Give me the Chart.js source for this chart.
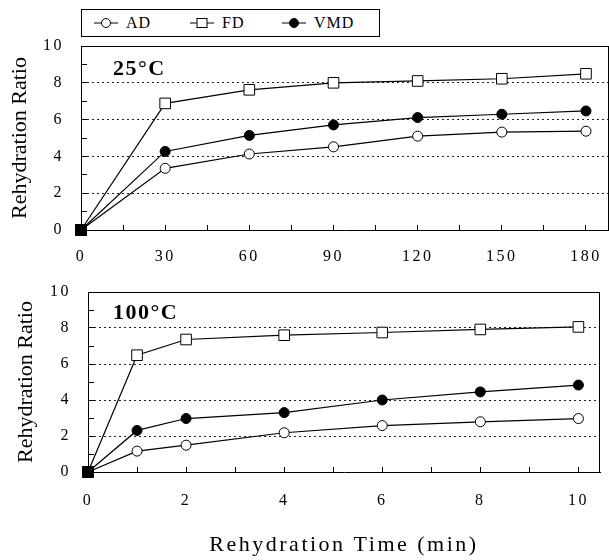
<!DOCTYPE html>
<html>
<head>
<meta charset="utf-8">
<script src="https://cdn.jsdelivr.net/npm/chart.js@4/dist/chart.umd.min.js"></script>
<style>
  html, body { margin: 0; padding: 0; background: #fff; }
  body { width: 609px; height: 560px; position: relative; overflow: hidden; font-family: "Liberation Serif", "Times New Roman", serif; }
  canvas { position: absolute; left: 0; }
  #c1 { top: 0; }
  #c2 { top: 270px; }
  .legend { position: absolute; left: 81px; top: 9px; width: 299px; height: 28px; box-sizing: border-box; border: 1px solid #000; background: #fff; }
  .legend .item { position: absolute; top: 0; height: 26px; display: flex; align-items: center; font-size: 16px; letter-spacing: 1px; color: #000; }
  .legend svg { display: block; margin-right: 8px; }
  .panel-label { position: absolute; font-weight: bold; font-size: 22px; letter-spacing: 1.5px; color: #000; line-height: 1; }
</style>
</head>
<body>
<canvas id="c1" width="609" height="270"></canvas>
<canvas id="c2" width="609" height="290"></canvas>
<div class="legend" id="legend"></div>
<div class="panel-label" style="left:113px; top:57px;">25°C</div>
<div class="panel-label" style="left:113px; top:301px;">100°C</div>
<script>
// ---------- data ----------
const seriesNames = ["AD", "FD", "VMD"];

const timeTop = [0, 30, 60, 90, 120, 150, 180];          // min, 25 °C
const adTop   = [0, 3.35, 4.13, 4.52, 5.10, 5.32, 5.37];
const fdTop   = [0, 6.88, 7.62, 8.00, 8.10, 8.22, 8.49];
const vmdTop  = [0, 4.27, 5.14, 5.71, 6.11, 6.29, 6.47];

const timeBot = [0, 1, 2, 4, 6, 8, 10];                  // min, 100 °C
const adBot   = [0, 1.16, 1.49, 2.18, 2.58, 2.79, 2.97];
const fdBot   = [0, 6.49, 7.36, 7.60, 7.75, 7.92, 8.06];
const vmdBot  = [0, 2.31, 2.97, 3.30, 4.00, 4.45, 4.83];

const xTickLabelsTop = [0, 30, 60, 90, 120, 150, 180];
const xMinorTop = [15, 45, 75, 105, 135, 165];
const xTickLabelsBot = [0, 2, 4, 6, 8, 10];
const xMinorBot = [1, 3, 5, 7, 9];
const yTickLabels = [0, 2, 4, 6, 8, 10];
const yMinor = [1, 3, 5, 7, 9];

const yTitle = "Rehydration Ratio";
const xTitle = "Rehydration Time (min)";

// ---------- helpers ----------
const FONT = "'Liberation Serif', 'Times New Roman', serif";

function toXY(xs, ys) { return xs.map((x, i) => ({ x: x, y: ys[i] })); }

const seriesStyle = {
  AD:  { style: 'circle', fill: '#ffffff', radius: 5 },
  FD:  { style: 'rect',   fill: '#ffffff', radius: 7.5 },
  VMD: { style: 'circle', fill: '#000000', radius: 5 }
};

function makeDataset(name, xs, ys) {
  const s = seriesStyle[name];
  return {
    label: name,
    data: toXY(xs, ys),
    borderColor: '#000',
    borderWidth: 1.2,
    backgroundColor: '#000',
    pointStyle: xs.map((x, i) => i === 0 ? 'rect' : s.style),
    pointRadius: xs.map((x, i) => i === 0 ? 7.5 : s.radius),
    pointBackgroundColor: xs.map((x, i) => i === 0 ? '#000' : s.fill),
    pointBorderColor: '#000',
    pointBorderWidth: 1,
    tension: 0,
    clip: false
  };
}

const frameAndSpacing = {
  id: 'frameAndSpacing',
  beforeDraw(chart) { chart.ctx.letterSpacing = '0px'; },
  afterDatasetsDraw(chart) { chart.ctx.letterSpacing = '2.5px'; },
  afterDraw(chart) {
    const a = chart.chartArea, ctx = chart.ctx;
    ctx.save();
    ctx.letterSpacing = '0px';
    ctx.strokeStyle = '#000';
    ctx.lineWidth = 1;
    ctx.beginPath();
    ctx.moveTo(a.left, Math.round(a.top) + 0.5);
    ctx.lineTo(a.right, Math.round(a.top) + 0.5);
    ctx.moveTo(Math.round(a.right) - 0.5, a.top);
    ctx.lineTo(Math.round(a.right) - 0.5, a.bottom);
    ctx.stroke();
    ctx.restore();
  }
};

function makeChart(canvasId, xs, ad, fd, vmd, opts) {
  const majors = opts.majors, minors = opts.minors;
  const allX = majors.concat(minors).sort((a, b) => a - b);
  const allY = yTickLabels.concat(yMinor).sort((a, b) => a - b);
  return new Chart(document.getElementById(canvasId), {
    type: 'line',
    data: {
      datasets: [
        makeDataset(seriesNames[0], xs, ad),
        makeDataset(seriesNames[1], xs, fd),
        makeDataset(seriesNames[2], xs, vmd)
      ]
    },
    options: {
      responsive: false,
      devicePixelRatio: 1,
      animation: false,
      events: [],
      layout: { autoPadding: false, padding: { top: opts.padTop, right: opts.padRight, left: 0, bottom: 0 } },
      plugins: { legend: { display: false }, tooltip: { enabled: false } },
      scales: {
        x: {
          type: 'linear',
          min: 0,
          max: opts.xMax,
          afterBuildTicks: (sc) => { sc.ticks = allX.map(v => ({ value: v })); },
          afterFit: (sc) => { sc.height = opts.xHeight; sc.paddingLeft = 0; sc.paddingRight = 0; },
          ticks: {
            z: 1,
            autoSkip: false,
            maxRotation: 0,
            padding: opts.xLabelPad,
            color: '#000',
            font: { family: FONT, size: 16 },
            callback: (v) => majors.includes(v) ? String(v) : ''
          },
          grid: {
            z: 1,
            drawOnChartArea: false,
            drawTicks: true,
            tickLength: -5,
            tickColor: '#000',
            tickWidth: 1
          },
          border: { display: true, color: '#000', width: 1, z: 2 },
          title: {
            display: opts.showXTitle,
            text: xTitle,
            color: '#000',
            font: { family: FONT, size: 22 },
            padding: { top: 0, bottom: opts.xTitlePad }
          }
        },
        y: {
          type: 'linear',
          min: 0,
          max: 10,
          afterBuildTicks: (sc) => { sc.ticks = allY.map(v => ({ value: v })); },
          afterFit: (sc) => { sc.width = opts.yWidth; sc.paddingTop = 0; sc.paddingBottom = 0; },
          ticks: {
            z: 1,
            autoSkip: false,
            padding: opts.yLabelPad,
            color: '#000',
            font: { family: FONT, size: 16 },
            callback: (v) => yTickLabels.includes(v) ? String(v) : ''
          },
          grid: {
            drawOnChartArea: true,
            drawTicks: true,
            tickLength: -6,
            tickColor: (c) => (c.tick && (c.tick.value === 0 || c.tick.value === 10)) ? 'rgba(0,0,0,0)' : '#000',
            color: (c) => (c.tick && [2, 4, 6, 8].includes(c.tick.value)) ? '#222' : 'rgba(0,0,0,0)',
            lineWidth: 1
          },
          border: { display: true, color: '#000', width: 1, dash: [2, 3] },
          title: {
            display: true,
            text: yTitle,
            color: '#000',
            font: { family: FONT, size: 22 },
            padding: { top: opts.yTitlePad, bottom: 0 }
          }
        }
      }
    },
    plugins: [frameAndSpacing]
  });
}

makeChart('c1', timeTop, adTop, fdTop, vmdTop, {
  majors: xTickLabelsTop, minors: xMinorTop, xMax: 188.2,
  padTop: 46, padRight: 0, xHeight: 40, yWidth: 81,
  xLabelPad: 22, yLabelPad: 23, showXTitle: false, xTitlePad: 0, yTitlePad: 7
});

makeChart('c2', timeBot, adBot, fdBot, vmdBot, {
  majors: xTickLabelsBot, minors: xMinorBot, xMax: 10.44,
  padTop: 22, padRight: 9, xHeight: 88, yWidth: 88,
  xLabelPad: 24, yLabelPad: 23, showXTitle: true, xTitlePad: 2, yTitlePad: 13
});

// ---------- legend (HTML) ----------
const legendPos = [12, 108, 200];
const legend = document.getElementById('legend');
seriesNames.forEach((name, i) => {
  const s = seriesStyle[name];
  const item = document.createElement('div');
  item.className = 'item';
  item.style.left = legendPos[i] + 'px';
  let marker;
  if (s.style === 'rect') {
    marker = `<rect x="7" y="2.5" width="10" height="9" fill="${s.fill}" stroke="#000" stroke-width="1"/>`;
  } else {
    marker = `<circle cx="12" cy="7" r="4.5" fill="${s.fill}" stroke="#000" stroke-width="1"/>`;
  }
  item.innerHTML = `<svg width="24" height="14" viewBox="0 0 24 14"><line x1="0" y1="7" x2="24" y2="7" stroke="#000" stroke-width="1"/>${marker}</svg><span>${name}</span>`;
  legend.appendChild(item);
});
</script>
</body>
</html>
